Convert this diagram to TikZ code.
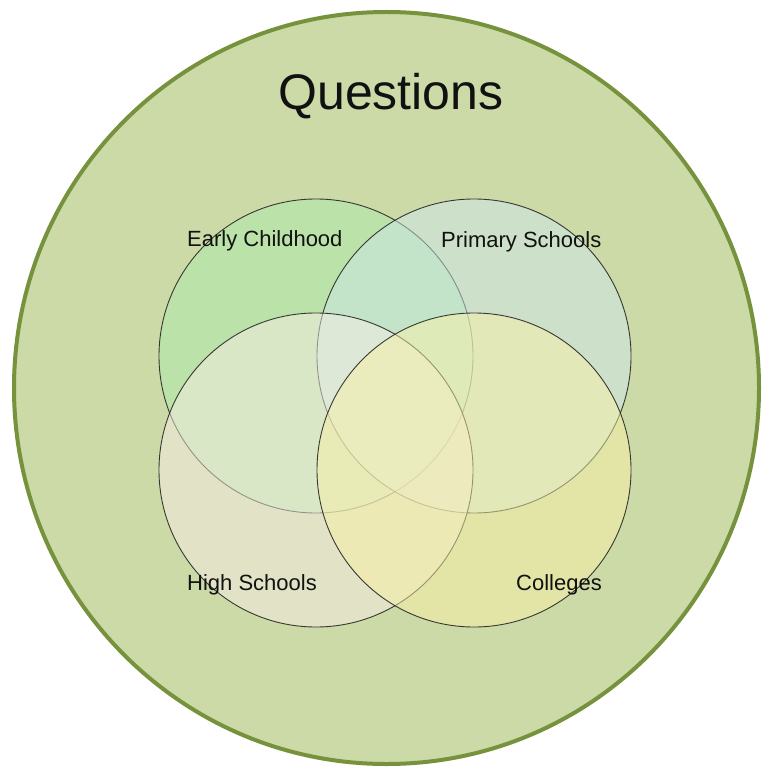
\documentclass[tikz,border=0pt]{standalone}
\usepackage{fontspec}
\setmainfont{Liberation Sans}
\usetikzlibrary{shapes.geometric}
\definecolor{outerfill}{RGB}{204,218,168}
\definecolor{outerline}{RGB}{118,146,60}
\definecolor{ecfill}{RGB}{172,234,168}
\definecolor{psfill}{RGB}{206,230,234}
\definecolor{hsfill}{RGB}{248,236,228}
\definecolor{cofill}{RGB}{248,240,166}
\definecolor{txt}{RGB}{17,17,17}
\tikzset{
  outerset/.style={ellipse, draw=outerline, fill=outerfill, line width=4pt, minimum width=745pt, minimum height=752pt, inner sep=0pt},
  setcirc/.style={circle, draw=black!85, line width=0.9pt, minimum size=314pt, inner sep=0pt, fill opacity=0.5, draw opacity=0.9},
  lab/.style={anchor=base west, inner sep=0pt, text=txt, font=\fontsize{22pt}{24pt}\selectfont},
  title/.style={anchor=base, inner sep=0pt, text=txt, font=\fontsize{50pt}{54pt}\selectfont}
}
\begin{document}
\begin{tikzpicture}[x=1pt, y=-1pt]
\useasboundingbox (0,0) rectangle (761,767);
\node[outerset] (outer) at (386.5,388) {};
\node[setcirc, fill=ecfill] (ec) at (316,356) {};
\node[setcirc, fill=psfill] (ps) at (474,356) {};
\node[setcirc, fill=hsfill] (hs) at (316,470) {};
\node[setcirc, fill=cofill] (co) at (474,470) {};
\node[title] (q) at (391,110) {Questions};
\node[lab] (lec) at (187,246) {Early Childhood};
\node[lab] (lps) at (441,247) {Primary Schools};
\node[lab] (lhs) at (187,590) {High Schools};
\node[lab] (lco) at (516,590) {Colleges};
\end{tikzpicture}
\end{document}
